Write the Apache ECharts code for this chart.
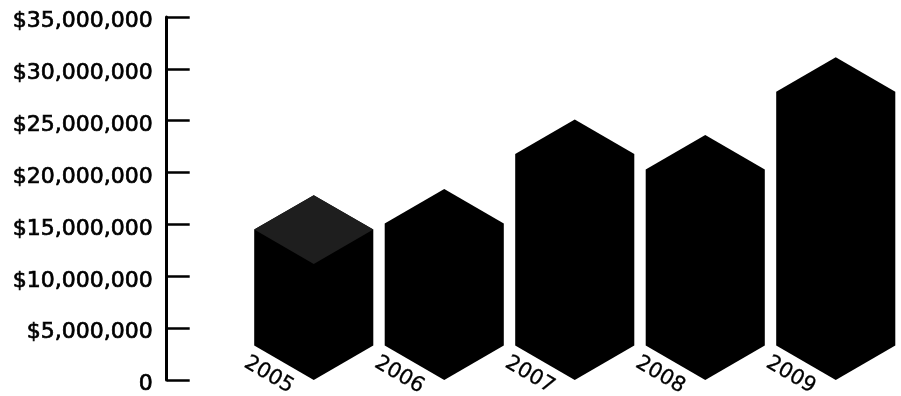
<!DOCTYPE html>
<html>
<head>
<meta charset="utf-8">
<script src="https://cdn.jsdelivr.net/npm/echarts@6/dist/echarts.min.js"></script>
<style>
  html, body { margin: 0; padding: 0; background: #ffffff; }
  #chart { width: 901px; height: 396px; }
</style>
</head>
<body>
<div id="chart"></div>
<script>
// ---- data ----
const years = ['2005', '2006', '2007', '2008', '2009'];
const revenue = [14500000, 15100000, 21800000, 20300000, 27800000];
const yMin = 0;
const yMax = 35000000;
const yInterval = 5000000;

function fmtMoney(v) {
  if (v === 0) return '0';
  return '$' + String(v).replace(/\B(?=(\d{3})+(?!\d))/g, ',');
}

const chart = echarts.init(document.getElementById('chart'), null, { renderer: 'canvas' });

const option = {
  animation: false,
  backgroundColor: '#ffffff',
  grid: { left: 248.5, top: 17, width: 657.5, height: 363, containLabel: false },
  xAxis: {
    type: 'category',
    data: years,
    show: false,
    boundaryGap: true
  },
  yAxis: {
    type: 'value',
    min: yMin,
    max: yMax,
    interval: yInterval,
    position: 'left',
    offset: 81.8,
    splitLine: { show: false },
    axisLine: { show: true, lineStyle: { color: '#000', width: 3 } },
    axisTick: { show: true, inside: true, length: 23, lineStyle: { color: '#000', width: 2.5 } },
    axisLabel: {
      margin: 14,
      color: '#000',
      fontFamily: 'DejaVu Sans',
      fontSize: 22,
      fontWeight: 'normal',
      textBorderColor: '#000',
      textBorderWidth: 0.7,
      verticalAlign: 'top',
      lineHeight: 9,
      formatter: fmtMoney
    }
  },
  series: [{
    type: 'custom',
    data: revenue.map((v, i) => [i, v]),
    encode: { x: 0, y: 1 },
    renderItem: function (params, api) {
      const i = api.value(0);
      const v = api.value(1);
      const top = api.coord([i, v]);
      const base = api.coord([i, 0]);
      const band = api.size([1, 0])[0];
      const w = band * 0.4563;
      const h = w * Math.tan(Math.PI / 6);
      const cx = base[0];
      const yv = top[1];
      const y0 = base[1];
      const children = [{
        type: 'polygon',
        shape: {
          points: [
            [cx, yv - h], [cx + w, yv], [cx + w, y0 - h],
            [cx, y0], [cx - w, y0 - h], [cx - w, yv]
          ]
        },
        style: { fill: '#000' }
      }];
      if (params.dataIndex === 0) {
        children.push({
          type: 'polygon',
          shape: { points: [[cx, yv - h], [cx + w, yv], [cx, yv + h], [cx - w, yv]] },
          style: { fill: '#1e1e1e' }
        });
      }
      children.push({
        type: 'text',
        x: cx - 45,
        y: y0 - 5,
        rotation: -Math.PI / 6,
        style: {
          text: years[params.dataIndex],
          fill: '#000',
          font: '21px "DejaVu Sans"',
          stroke: '#000',
          lineWidth: 0.3,
          align: 'center',
          verticalAlign: 'middle'
        }
      });
      return { type: 'group', children: children };
    }
  }]
};

chart.setOption(option);
</script>
</body>
</html>
